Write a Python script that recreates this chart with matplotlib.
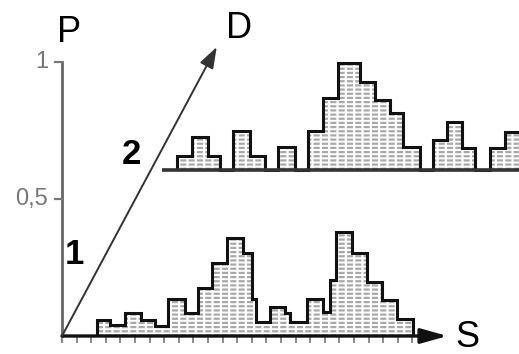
import matplotlib
matplotlib.use("Agg")
import matplotlib.pyplot as plt

plt.rcParams['font.family'] = ['Liberation Sans', 'DejaVu Sans']
plt.rcParams['hatch.linewidth'] = 1.6

# ---- data (S in tick units, P in probability units) ----
# curve 1 (bottom histogram)
s_edges_1 = [2.40, 3.29, 4.32, 5.41, 6.37, 7.26, 8.42, 9.32, 10.27, 11.30, 12.40,
             13.01, 13.29, 14.25, 15.27, 15.62, 16.78, 17.88, 18.36, 18.77, 19.86,
             20.89, 21.92, 22.95, 24.04]
p_values_1 = [0.058, 0.040, 0.084, 0.058, 0.036, 0.135, 0.084, 0.175, 0.266, 0.358,
              0.303, 0.135, 0.051, 0.106, 0.084, 0.051, 0.135, 0.088, 0.204, 0.380,
              0.303, 0.197, 0.131, 0.062]

# curve 2 (upper histogram, drawn at a larger D)
s_edges_2 = [7.88, 8.90, 10.00, 10.82, 11.71, 12.88, 13.90, 14.79, 15.96, 16.85,
             17.88, 18.90, 20.41, 21.44, 22.47, 23.36, 24.52, 25.41, 26.37, 27.40,
             28.29, 29.32, 30.34, 31.71]
p_values_2 = [0.051, 0.120, 0.051, 0.0, 0.142, 0.051, 0.0, 0.084, 0.0, 0.142,
              0.263, 0.391, 0.321, 0.255, 0.208, 0.084, 0.0, 0.109, 0.175, 0.080,
              0.0, 0.080, 0.139]
base_2 = 0.606
start_2 = 6.85

p_ticks = [0.5, 1.0]
p_tick_labels = ['0,5', '1']
s_ticks = list(range(0, 25))

fig = plt.figure(figsize=(5.19, 3.54), dpi=100)
ax = fig.add_axes([0, 0, 1, 1])
ax.set_xlim(-62 / 14.6, 457 / 14.6)
ax.set_ylim(-18 / 274, 336 / 274)
ax.axis('off')


def draw_hist(values, edges, base):
    ax.stairs(values, edges, baseline=base, fill=True, facecolor='white',
              edgecolor='#a8a8a8', hatch='----', linewidth=0, zorder=2)
    ax.stairs(values, edges, baseline=base, fill=True, facecolor='none',
              edgecolor='white', hatch='||', linewidth=0, zorder=2.1)
    ax.stairs(values, edges, baseline=base, fill=False, edgecolor='#111111',
              linewidth=2.2, zorder=3)


draw_hist(p_values_1, s_edges_1, 0)
draw_hist([base_2 + v for v in p_values_2], s_edges_2, base_2)
ax.plot([start_2, 32], [base_2, base_2], color='#333333', lw=2.6, zorder=3.5,
        solid_capstyle='butt')

# P axis
ax.plot([0, 0], [0, 1.0], color='#666666', lw=2.0, zorder=4)
for t, lab in zip(p_ticks, p_tick_labels):
    ax.plot([-0.5, 0], [t, t], color='#777777', lw=1.6, zorder=4)
    ax.text(-0.95, t, lab, ha='right', va='center', fontsize=17, color='#777777')

# S axis with arrow
ax.annotate('', xy=(26.4, 0), xytext=(0, 0),
            arrowprops=dict(arrowstyle='-|>,head_length=1.6,head_width=0.45',
                            color='#111111', lw=2.4, shrinkA=0, shrinkB=0), zorder=5)
for t in s_ticks:
    ax.plot([t, t], [0, -0.022], color='#888888', lw=1.4, zorder=4)

# D axis with arrow
ax.annotate('', xy=(10.6, 1.055), xytext=(0, 0),
            arrowprops=dict(arrowstyle='-|>,head_length=1.3,head_width=0.45',
                            color='#333333', lw=1.4, shrinkA=0, shrinkB=0), zorder=5)

# labels
ax.text(0.48, 1.109, 'P', ha='center', va='center', fontsize=26)
ax.text(12.1, 1.124, 'D', ha='center', va='center', fontsize=26)
ax.text(27.8, -0.007, 'S', ha='center', va='center', fontsize=26)
ax.text(0.82, 0.296, '1', ha='center', va='center', fontsize=25, fontweight='bold')
ax.text(4.79, 0.661, '2', ha='center', va='center', fontsize=25, fontweight='bold')

fig.savefig('out.png', dpi=100)
